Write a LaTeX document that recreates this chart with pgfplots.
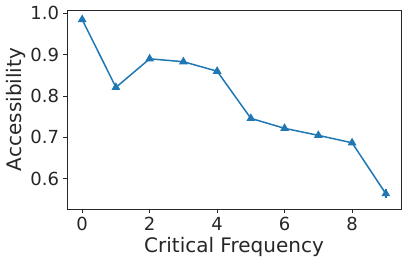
\documentclass[border=0pt]{standalone}
\usepackage{pgfplots}
\pgfplotsset{compat=1.18}
\usepackage{fontspec}
\setmainfont{DejaVu Sans}
\definecolor{tabblue}{HTML}{1F77B4}
\begin{document}
\begin{tikzpicture}
\path (-67pt,-54pt) rectangle (340pt,209pt);
\begin{axis}[
  at={(0pt,0pt)}, anchor=south west,
  scale only axis, width=334pt, height=199pt,
  xmin=-0.45, xmax=9.45, ymin=0.527, ymax=1.008,
  xtick={0,2,4,6,8}, ytick={0.6,0.7,0.8,0.9,1.0},
  yticklabel style={xshift=-1pt, /pgf/number format/fixed, /pgf/number format/fixed zerofill, /pgf/number format/precision=1},
  /pgf/number format/assume math mode=true,
  tick align=outside, tick pos=left,
  major tick length=3.5pt,
  tick style={line width=0.8pt, color=black!85},
  axis line style={line width=0.8pt, color=black!85},
  ticklabel style={font=\fontsize{18}{20}\selectfont, color=black!85},
  xticklabel style={yshift=-1pt},
  xlabel={Critical Frequency}, ylabel={Accessibility},
  label style={font=\fontsize{20}{23}\selectfont, color=black!85},
  xlabel style={yshift=0pt},
  ylabel style={yshift=-2pt},
]
\addplot[color=tabblue, line width=1.5pt, mark=triangle*, mark size=3.6pt,
  error bars/.cd, y dir=both, y explicit, error mark=none,
  error bar style={line width=1.5pt, color=tabblue}]
  table[x=x, y=y, y error=e] {
x y e
0 0.985 0.003
1 0.821 0.004
2 0.890 0.003
3 0.883 0.003
4 0.860 0.004
5 0.746 0.004
6 0.722 0.007
7 0.705 0.006
8 0.687 0.005
9 0.564 0.011
};
\end{axis}
\end{tikzpicture}
\end{document}
